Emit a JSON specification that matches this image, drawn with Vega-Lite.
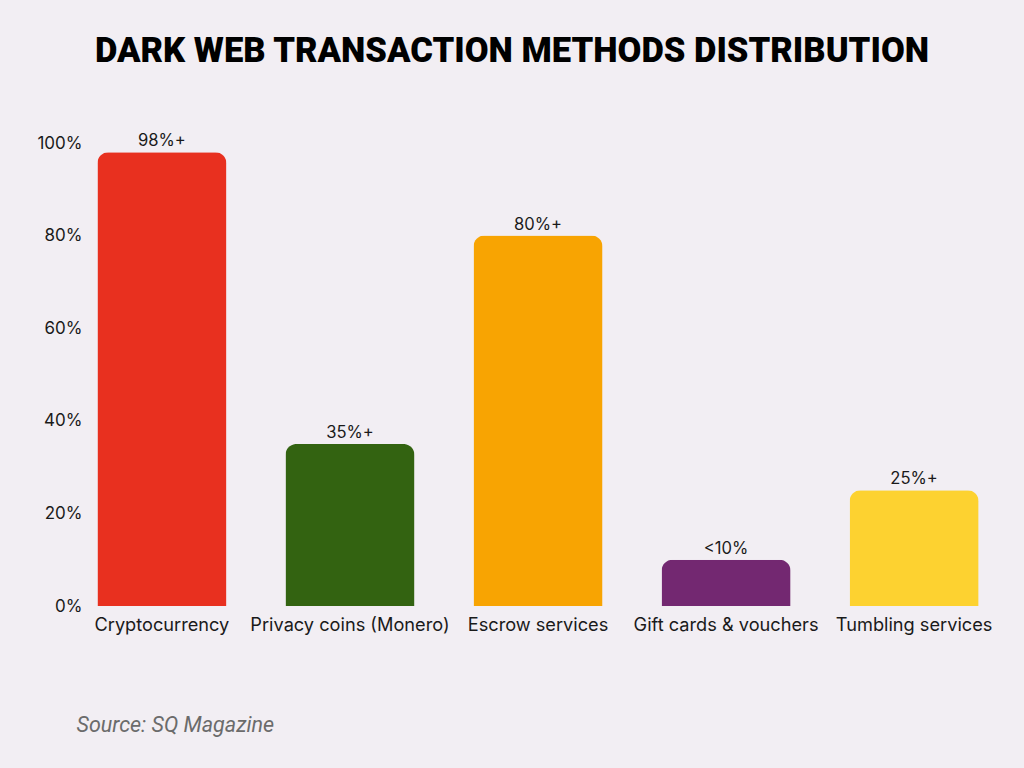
{
  "$schema": "https://vega.github.io/schema/vega-lite/v6.json",
  "autosize": {"type": "none"},
  "width": 900,
  "height": 463,
  "padding": {"left": 88, "top": 143, "right": 36, "bottom": 162},
  "background": "#F2EEF3",
  "title": {
    "text": "DARK WEB TRANSACTION METHODS DISTRIBUTION",
    "font": "Roboto",
    "fontWeight": 900,
    "fontSize": 34.6,
    "color": "#000000",
    "anchor": "middle",
    "dx": -26,
    "offset": 64
  },
  "data": {
    "values": [
      {"method": "Cryptocurrency", "share": 98, "label": "98%+"},
      {"method": "Privacy coins (Monero)", "share": 35, "label": "35%+"},
      {"method": "Escrow services", "share": 80, "label": "80%+"},
      {"method": "Gift cards & vouchers", "share": 10, "label": "<10%"},
      {"method": "Tumbling services", "share": 25, "label": "25%+"}
    ]
  },
  "encoding": {
    "x": {
      "field": "method",
      "type": "nominal",
      "sort": null,
      "scale": {"paddingInner": 0.314, "paddingOuter": 0.05},
      "axis": {
        "title": "Source: SQ Magazine",
        "titleFont": "Roboto",
        "titleFontStyle": "italic",
        "titleFontWeight": 400,
        "titleFontSize": 21.5,
        "titleColor": "#6b6b6b",
        "titleAnchor": "start",
        "titleAlign": "left",
        "titleBaseline": "alphabetic",
        "titleX": -12,
        "titleY": 125,
        "labelAngle": 0,
        "labelFont": "Inter",
        "labelFontSize": 18.2,
        "labelColor": "#1a1a1a",
        "labelPadding": 10,
        "labelLimit": 300,
        "domain": false,
        "ticks": false
      }
    },
    "y": {
      "field": "share",
      "type": "quantitative",
      "scale": {"domain": [0, 100], "nice": false},
      "axis": {
        "title": null,
        "values": [0, 20, 40, 60, 80, 100],
        "labelExpr": "datum.value + '%'",
        "labelFont": "Inter",
        "labelFontSize": 17,
        "labelColor": "#1a1a1a",
        "labelPadding": 6,
        "domain": false,
        "ticks": false,
        "grid": false
      }
    }
  },
  "layer": [
    {
      "mark": {"type": "bar", "cornerRadiusTopLeft": 11, "cornerRadiusTopRight": 11},
      "encoding": {
        "color": {
          "field": "method",
          "type": "nominal",
          "sort": null,
          "scale": {
            "domain": ["Cryptocurrency", "Privacy coins (Monero)", "Escrow services", "Gift cards & vouchers", "Tumbling services"],
            "range": ["#E8301F", "#336311", "#F8A402", "#732871", "#FDD230"]
          },
          "legend": null
        }
      }
    },
    {
      "mark": {"type": "text", "baseline": "bottom", "dy": -3, "font": "Inter", "fontSize": 16.6, "color": "#1a1a1a"},
      "encoding": {"text": {"field": "label"}}
    }
  ],
  "config": {"view": {"stroke": null}}
}
